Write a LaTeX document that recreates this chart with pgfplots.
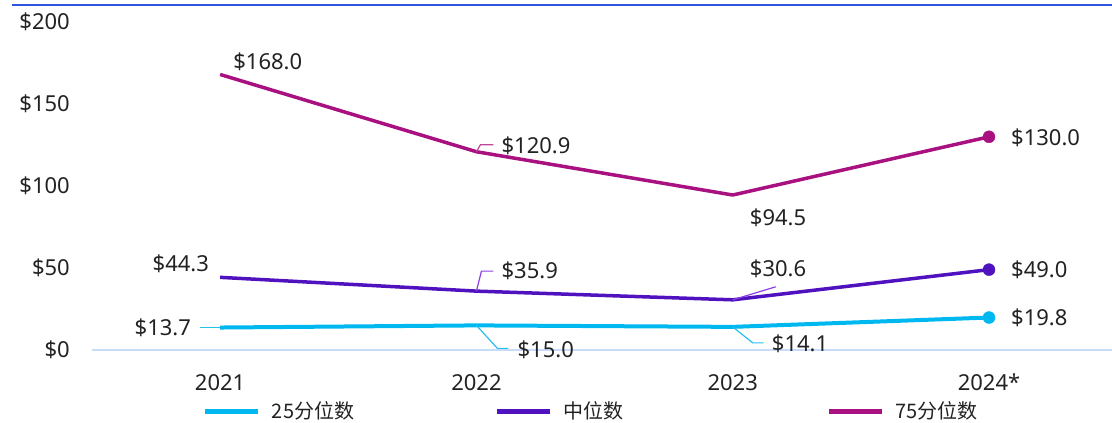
\documentclass[border=0pt]{standalone}
\usepackage{pgfplots}
\usepackage{pgfplotstable}
\pgfplotsset{compat=1.18}
\usepackage{fontspec}
\setmainfont{Noto Sans}
\newfontfamily\cjk{Noto Sans CJK SC}
\definecolor{cA}{RGB}{0,184,240}
\definecolor{cB}{RGB}{80,17,190}
\definecolor{cC}{RGB}{168,17,127}
\definecolor{lA}{RGB}{40,190,240}
\definecolor{lB}{RGB}{138,63,232}
\definecolor{lC}{RGB}{192,70,150}
\definecolor{axline}{RGB}{200,220,248}
\definecolor{topline}{RGB}{46,85,224}
\definecolor{txt}{RGB}{34,34,34}
\newcommand\lbl{\fontsize{22}{26}\selectfont}

\pgfplotstableread{
x p25 med p75
0 13.7 44.3 168.0
1 15.0 35.9 120.9
2 14.1 30.6 94.5
3 19.8 49.0 130.0
}\datatable

\begin{document}
\begin{tikzpicture}
\useasboundingbox (0pt,0pt) rectangle (1112pt,423pt);
\draw[topline, line width=2.5pt] (12pt,418pt) -- (1112pt,418pt);
\begin{axis}[
  at={(92pt,73pt)}, anchor=south west,
  scale only axis, width=1020pt, height=328pt,
  xmin=-0.5, xmax=3.48, ymin=0, ymax=200,
  axis lines*=left,
  x axis line style={axline, line width=1.5pt, -},
  y axis line style={draw=none},
  major tick length=0pt,
  tick style={draw=none},
  xtick={0,1,2,3}, xticklabels={2021,2022,2023,2024*},
  ytick={0,50,100,150,200}, yticklabels={\$0,\$50,\$100,\$150,\$200},
  tick label style={font=\lbl, text=txt},
  yticklabel style={anchor=east, inner sep=0pt, xshift=-22pt},
  xticklabel style={anchor=north, inner sep=0pt, yshift=-24pt},
  clip=false,
  legend columns=3,
  legend image code/.code={\draw[#1, line width=5pt] (0pt,0pt) -- (53pt,0pt);},
  legend style={at={(0.1088,-0.186)}, anchor=west, draw=none, fill=none,
    inner sep=0pt, outer sep=0pt, font=\cjk\fontsize{20}{24}\selectfont, text=txt,
    nodes={inner sep=0pt},
    /tikz/column 1/.style={column sep=11pt},
    /tikz/column 2/.style={column sep=140pt},
    /tikz/column 3/.style={column sep=11pt},
    /tikz/column 4/.style={column sep=203pt},
    /tikz/column 5/.style={column sep=11pt}},
  legend cell align=left,
]
\addplot[cA, line width=4pt, line join=round] table[x=x,y=p25]{\datatable};
\addlegendentry{25分位数}
\addplot[cB, line width=3.5pt, line join=round] table[x=x,y=med]{\datatable};
\addlegendentry{中位数}
\addplot[cC, line width=3.5pt, line join=round] table[x=x,y=p75]{\datatable};
\addlegendentry{75分位数}
\addplot[cA, only marks, mark=*, mark size=6pt, forget plot] coordinates {(3,19.8)};
\addplot[cB, only marks, mark=*, mark size=6pt, forget plot] coordinates {(3,49.0)};
\addplot[cC, only marks, mark=*, mark size=6pt, forget plot] coordinates {(3,130.0)};

% leader lines
\draw[lC, line width=1.2pt] (axis cs:1,120.9) -- ++(4pt,7pt) -- ++(13pt,0pt);
\draw[lB, line width=1.2pt] (axis cs:1,35.9) -- ++(5pt,20pt) -- ++(12pt,0pt);
\draw[lB, line width=1.2pt] (axis cs:2,30.6) -- ++(43pt,13pt);
\draw[lA, line width=1.2pt] (axis cs:0,13.7) -- ++(-20pt,0pt);
\draw[lA, line width=1.2pt] (axis cs:1,15.0) -- ++(21pt,-23pt) -- ++(11pt,0pt);
\draw[lA, line width=1.2pt] (axis cs:2,14.1) -- ++(20pt,-16pt) -- ++(11pt,0pt);

% data labels
\begin{scope}[every node/.style={inner sep=0pt, font=\lbl, text=txt}]
\node[anchor=west, xshift=13pt, yshift=12.5pt] at (axis cs:0,168.0) {\$168.0};
\node[anchor=west, xshift=25pt, yshift=6pt] at (axis cs:1,120.9) {\$120.9};
\node[anchor=west, xshift=17pt, yshift=-23pt] at (axis cs:2,94.5) {\$94.5};
\node[anchor=west, xshift=22pt, yshift=-1pt] at (axis cs:3,130.0) {\$130.0};
\node[anchor=east, xshift=-11pt, yshift=14pt] at (axis cs:0,44.3) {\$44.3};
\node[anchor=west, xshift=25pt, yshift=20pt] at (axis cs:1,35.9) {\$35.9};
\node[anchor=west, xshift=17pt, yshift=31pt] at (axis cs:2,30.6) {\$30.6};
\node[anchor=west, xshift=22pt, yshift=0pt] at (axis cs:3,49.0) {\$49.0};
\node[anchor=east, xshift=-29pt, yshift=0pt] at (axis cs:0,13.7) {\$13.7};
\node[anchor=west, xshift=41pt, yshift=-24pt] at (axis cs:1,15.0) {\$15.0};
\node[anchor=west, xshift=39pt, yshift=-17pt] at (axis cs:2,14.1) {\$14.1};
\node[anchor=west, xshift=22pt, yshift=0pt] at (axis cs:3,19.8) {\$19.8};
\end{scope}
\end{axis}
\end{tikzpicture}
\end{document}
